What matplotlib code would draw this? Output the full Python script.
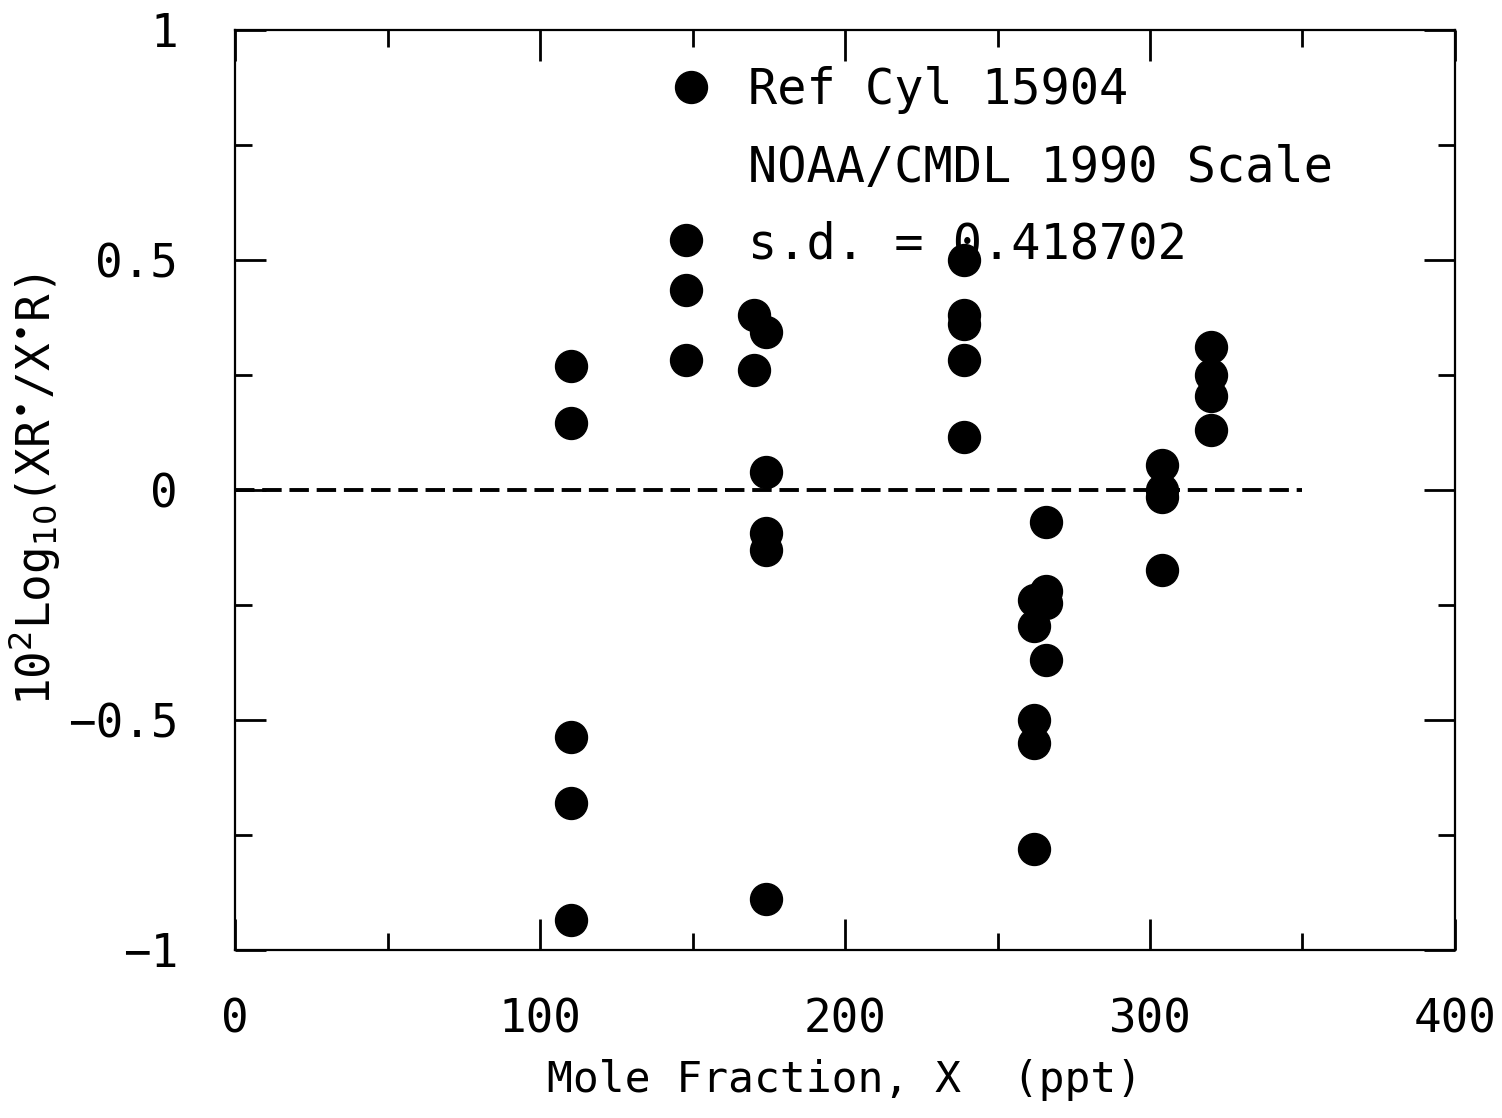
import matplotlib
matplotlib.use("Agg")
import matplotlib.pyplot as plt
from matplotlib.lines import Line2D
from matplotlib.ticker import MultipleLocator

# readings grouped by cylinder mole fraction (ppt)
x_110 = [110, 110, 110, 110, 110]
y_110 = [0.27, 0.146, -0.537, -0.68, -0.935]
x_148 = [148, 148, 148]
y_148 = [0.543, 0.435, 0.283]
x_170 = [170, 170]
y_170 = [0.38, 0.26]
x_174 = [174, 174, 174, 174, 174]
y_174 = [0.343, 0.039, -0.093, -0.13, -0.89]
x_239 = [239, 239, 239, 239, 239]
y_239 = [0.50, 0.38, 0.36, 0.283, 0.115]
x_262 = [262, 262, 262, 262, 262]
y_262 = [-0.24, -0.295, -0.50, -0.55, -0.78]
x_266 = [266, 266, 266, 266]
y_266 = [-0.07, -0.22, -0.245, -0.37]
x_304 = [304, 304, 304, 304]
y_304 = [0.055, 0.0, -0.015, -0.175]
x_320 = [320, 320, 320, 320]
y_320 = [0.31, 0.25, 0.205, 0.13]

mole_frac = x_110 + x_148 + x_170 + x_174 + x_239 + x_262 + x_266 + x_304 + x_320
log_ratio = y_110 + y_148 + y_170 + y_174 + y_239 + y_262 + y_266 + y_304 + y_320

ref_line_x = [0, 350]
ref_line_y = [0, 0]

x_ticks = [0, 100, 200, 300, 400]
x_tick_labels = ['0', '100', '200', '300', '400']
y_ticks = [-1, -0.5, 0, 0.5, 1]
y_tick_labels = ['\u22121', '\u22120.5', '0', '0.5', '1']

legend_lines = ["Ref Cyl 15904", "NOAA/CMDL 1990 Scale", "s.d. = 0.418702"]

font = "DejaVu Sans Mono"

fig = plt.figure(figsize=(15.02, 11.18), dpi=100)
ax = fig.add_axes([0.1565, 0.1503, 0.8122, 0.8229])

ax.plot(mole_frac, log_ratio, 'o', color='black', markersize=23)
ax.plot(ref_line_x, ref_line_y, color='black', lw=2.8, dashes=(5, 2))

ax.set_xlim(0, 400)
ax.set_ylim(-1, 1)
ax.xaxis.set_minor_locator(MultipleLocator(50))
ax.yaxis.set_minor_locator(MultipleLocator(0.25))
ax.set_xticks(x_ticks)
ax.set_xticklabels(x_tick_labels)
ax.set_yticks(y_ticks)
ax.set_yticklabels(y_tick_labels)

ax.tick_params(which='both', direction='in', top=True, right=True, width=2)
ax.tick_params(which='major', length=22, labelsize=33)
ax.tick_params(axis='x', which='major', pad=34)
ax.tick_params(axis='y', which='major', pad=41)
ax.tick_params(which='minor', length=12)
for lab in ax.get_xticklabels() + ax.get_yticklabels():
    lab.set_family(font)
for sp in ax.spines.values():
    sp.set_linewidth(1.6)

ax.set_xlabel('Mole Fraction, X  (ppt)', family=font, fontsize=31, labelpad=12)
ax.set_ylabel(r'10$^2$Log$_{10}$(XR$^{\bullet}$/X$^{\bullet}$R)', family=font,
              fontsize=33, labelpad=4)

handles = [Line2D([], [], marker='o', color='black', ls='none', markersize=23),
           Line2D([], [], ls='none'),
           Line2D([], [], ls='none')]
ax.legend(handles, legend_lines, loc='upper left', bbox_to_anchor=(0.316, 1.008),
          frameon=False, prop={'family': font, 'size': 35},
          handletextpad=0.62, labelspacing=0.6, handlelength=1.1)

fig.savefig('out.png', dpi=100)
